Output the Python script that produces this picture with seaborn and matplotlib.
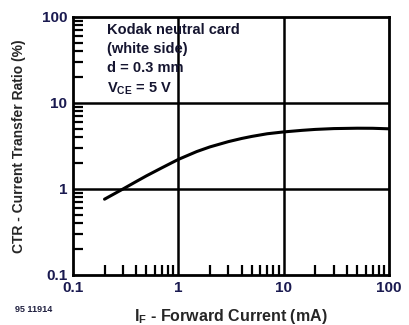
import matplotlib
matplotlib.use("Agg")
import matplotlib.pyplot as plt
import seaborn as sns
import pandas as pd
from matplotlib.ticker import LogLocator, NullFormatter, FixedLocator, FixedFormatter

# forward current (mA) and CTR (%)
current_ma = [0.2, 0.3, 0.4, 0.5, 0.7, 1.0, 1.5, 2.0, 3.0, 4.0, 5.0, 7.0, 10.0, 15.0, 20.0, 30.0, 50.0, 70.0, 100.0]
ctr_pct = [0.76, 1.0, 1.22, 1.42, 1.76, 2.2, 2.72, 3.08, 3.55, 3.86, 4.08, 4.38, 4.6, 4.8, 4.92, 5.03, 5.08, 5.07, 5.0]

tick_vals = [0.1, 1, 10, 100]
tick_labels = ["0.1", "1", "10", "100"]

df = pd.DataFrame({"IF": current_ma, "CTR": ctr_pct})

sns.set_style("white")
plt.rcParams['font.family'] = ['Liberation Sans', 'DejaVu Sans']

fig = plt.figure(figsize=(4.09, 3.25), dpi=100)
ax = fig.add_axes([0.178, 0.154, 0.773, 0.794])

sns.lineplot(data=df, x="IF", y="CTR", ax=ax, color="black", linewidth=2.2)

ax.set_xscale("log")
ax.set_yscale("log")
ax.set_xlim(0.1, 100)
ax.set_ylim(0.1, 100)

for v in tick_vals[1:-1]:
    ax.axvline(v, color="black", lw=1.8, zorder=1)
    ax.axhline(v, color="black", lw=1.8, zorder=1)

ax.xaxis.set_major_locator(FixedLocator(tick_vals))
ax.xaxis.set_major_formatter(FixedFormatter(tick_labels))
ax.yaxis.set_major_locator(FixedLocator(tick_vals))
ax.yaxis.set_major_formatter(FixedFormatter(tick_labels))
ax.xaxis.set_minor_locator(LogLocator(base=10, subs=range(2, 10)))
ax.yaxis.set_minor_locator(LogLocator(base=10, subs=range(2, 10)))
ax.xaxis.set_minor_formatter(NullFormatter())
ax.yaxis.set_minor_formatter(NullFormatter())
ax.tick_params(bottom=True, left=True, top=False, right=False, which="both")
ax.tick_params(which="major", length=0, labelsize=11, labelcolor="#1a1a50", pad=4)
ax.tick_params(which="minor", direction="in", length=7, width=1.6, color="black")
for lab in ax.get_xticklabels() + ax.get_yticklabels():
    lab.set_fontweight("bold")

for s in ax.spines.values():
    s.set_linewidth(2)
    s.set_color("black")

ax.set_xlabel("I$_\\mathregular{F}$ - Forward Current (mA)", fontsize=11.5, fontweight="bold", labelpad=9)
ax.set_ylabel("CTR - Current Transfer Ratio (%)", fontsize=10, fontweight="bold", labelpad=11)

ax.text(0.21, 85, "Kodak neutral card\n(white side)\nd = 0.3 mm\nV$_\\mathregular{CE}$ = 5 V",
        fontsize=10.5, fontweight="bold", va="top", ha="left", linespacing=1.45, color="#151530")

fig.text(0.037, 0.04, "95 11914", fontsize=6.5, fontweight="bold", color="#202040")

fig.savefig("out.png", dpi=100)
